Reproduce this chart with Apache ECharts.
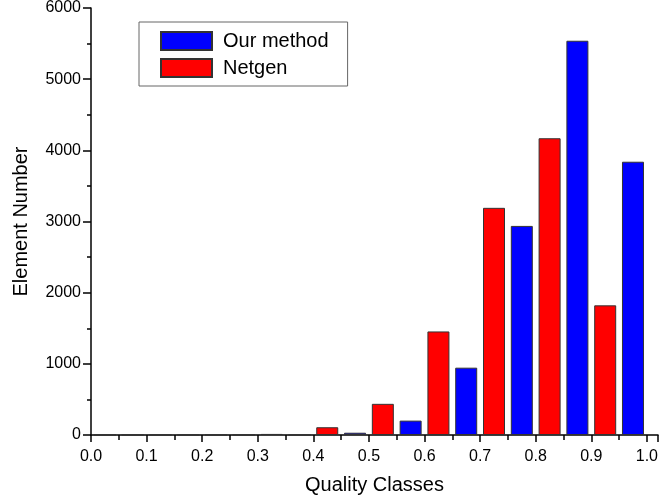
<!DOCTYPE html>
<html>
<head>
<meta charset="utf-8">
<script src="https://cdn.jsdelivr.net/npm/echarts@6/dist/echarts.min.js"></script>
<style>
  html, body { margin: 0; padding: 0; background: #fff; }
  #main { width: 661px; height: 501px; }
</style>
</head>
<body>
<div id="main"></div>
<script>
// quality class start values
var classes = [0.0, 0.1, 0.2, 0.3, 0.4, 0.5, 0.6, 0.7, 0.8, 0.9];
// element counts per class
var netgen = [0, 0, 0, 15, 109, 438, 1455, 3192, 4170, 1822];
var ours   = [0, 0, 0, 0, 32, 202, 946, 2938, 5540, 3840];
var xTicks = [0.0, 0.1, 0.2, 0.3, 0.4, 0.5, 0.6, 0.7, 0.8, 0.9, 1.0];

// netgen sits in the left half of each class, ours in the right half
var netgenData = netgen.map(function (v, i) { return [classes[i] + 0.025, v]; });
var oursData = ours.map(function (v, i) { return [classes[i] + 0.075, v]; });

var font = 'Arial, "Liberation Sans", sans-serif';
var axisLine = { show: true, lineStyle: { color: '#000', width: 1.5 } };

var chart = echarts.init(document.getElementById('main'));
chart.setOption({
    animation: false,
    backgroundColor: '#fff',
    grid: { left: 91, top: 8, width: 570, height: 427, containLabel: false },
    legend: {
        orient: 'vertical',
        left: 139,
        top: 22,
        padding: [9, 19, 8, 21],
        itemGap: 7,
        itemWidth: 51,
        itemHeight: 18,
        borderColor: '#666',
        borderWidth: 1,
        icon: 'rect',
        textStyle: { fontFamily: font, fontSize: 20, color: '#000', padding: [0, 0, 0, 6] },
        data: ['Our method', 'Netgen']
    },
    xAxis: {
        type: 'value',
        min: 0,
        max: 1.02,
        interval: 0.1,
        name: 'Quality Classes',
        nameLocation: 'middle',
        nameGap: 40,
        nameTextStyle: { fontFamily: font, fontSize: 20, color: '#000' },
        axisLine: axisLine,
        axisTick: { show: true, length: 7, lineStyle: { color: '#000', width: 1.5 } },
        minorTick: { show: true, splitNumber: 2, length: 5, lineStyle: { color: '#000', width: 1.5 } },
        splitLine: { show: false },
        axisLabel: {
            fontFamily: font, fontSize: 16, color: '#000', margin: 14,
            formatter: function (v) {
                for (var i = 0; i < xTicks.length; i++) {
                    if (Math.abs(v - xTicks[i]) < 1e-6) return xTicks[i].toFixed(1);
                }
                return '';
            }
        }
    },
    yAxis: {
        type: 'value',
        min: 0,
        max: 6000,
        interval: 1000,
        name: 'Element Number',
        nameLocation: 'middle',
        nameGap: 60,
        nameTextStyle: { fontFamily: font, fontSize: 20, color: '#000' },
        axisLine: axisLine,
        axisTick: { show: true, length: 8, lineStyle: { color: '#000', width: 1.5 } },
        minorTick: { show: true, splitNumber: 2, length: 4, lineStyle: { color: '#000', width: 1.5 } },
        splitLine: { show: false },
        axisLabel: {
            fontFamily: font, fontSize: 16, color: '#000', margin: 10,
            formatter: function (v) { return String(v); }
        }
    },
    series: [
        {
            name: 'Our method',
            type: 'bar',
            barWidth: 22,
            barGap: '-100%',
            itemStyle: { color: '#0000ff', borderColor: '#333', borderWidth: 1 },
            data: oursData
        },
        {
            name: 'Netgen',
            type: 'bar',
            barWidth: 22,
            barGap: '-100%',
            itemStyle: { color: '#ff0000', borderColor: '#333', borderWidth: 1 },
            data: netgenData
        }
    ]
});
</script>
</body>
</html>
